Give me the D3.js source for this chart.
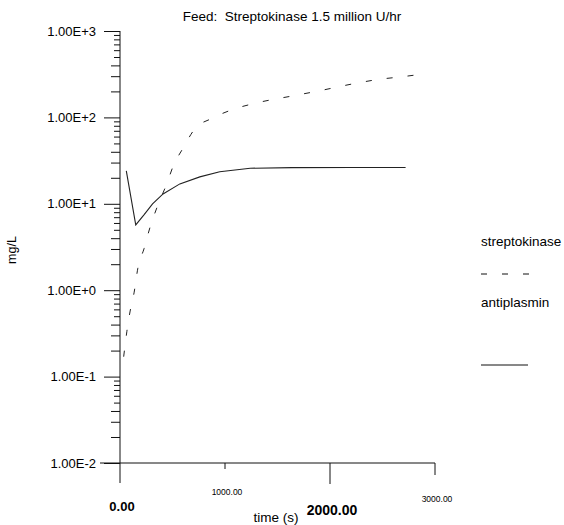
<!DOCTYPE html>
<html>
<head>
  <meta charset="utf-8">
  <script src="https://d3js.org/d3.v7.min.js"></script>
  <style>
    body { margin: 0; background: #fff; }
    text { font-family: "Liberation Sans", Arial, sans-serif; fill: #000; white-space: pre; }
    .axis path, .axis line { stroke: #111; }
  </style>
</head>
<body>
<div id="chart"></div>
<script>
  // values
  var skTime = [35, 65, 95, 135, 170, 230, 285, 360, 445, 505, 600, 710, 880, 1070, 1300, 1640, 1870, 2260, 2470, 2680, 2880];
  var skConc = [0.17, 0.33, 0.56, 0.95, 1.8, 3.05, 5.3, 9.6, 17, 27, 44, 73, 98, 123, 147, 177, 200, 250, 276, 295, 317];
  var apTime = [60, 150, 230, 310, 410, 570, 760, 950, 1240, 1640, 2200, 2720];
  var apConc = [24, 5.7, 7.5, 10, 13, 17, 20.5, 23.5, 25.8, 26.2, 26.3, 26.3];
  var yMajor = [0.01, 0.1, 1, 10, 100, 1000];
  var yMajorLabels = ["1.00E-2", "1.00E-1", "1.00E+0", "1.00E+1", "1.00E+2", "1.00E+3"];
  var xTicks = [0, 1000, 2000, 3000];
  var xTickLabels = ["0.00", "1000.00", "2000.00", "3000.00"];
  var seriesNames = ["streptokinase", "antiplasmin"];

  var width = 564, height = 525;
  var svg = d3.select('#chart').append('svg')
    .attr('width', width)
    .attr('height', height);

  var x = d3.scaleLinear().domain([0, 3000]).range([120, 435]);
  var y = d3.scaleLog().domain([0.01, 1000]).range([463, 31]);

  // minor ticks 2..9 in every decade
  var minors = [];
  yMajor.slice(0, -1).forEach(function(d) {
    for (var k = 2; k <= 9; k++) minors.push(d * k);
  });

  var yAxis = svg.append('g').attr('class', 'axis')
    .attr('transform', 'translate(' + x(0) + ',0)');
  yAxis.call(d3.axisLeft(y).tickValues(yMajor).tickSize(16).tickPadding(8)
      .tickFormat(function(d, i) { return yMajorLabels[i]; }))
    .call(function(g) { g.select('.domain').remove(); });
  yAxis.selectAll('text')
    .style('font-size', '13px')
    .style('fill', '#000');

  svg.append('g').attr('class', 'axis')
    .attr('transform', 'translate(' + x(0) + ',0)')
    .call(d3.axisLeft(y).tickValues(minors).tickFormat('')
      .tickSizeInner(7).tickSizeOuter(0))
    .call(function(g) { g.select('.domain').remove(); })
    .selectAll('line')
    .attr('x2', function(d) {
      var m = Math.round(d / Math.pow(10, Math.floor(Math.log10(d) + 1e-9)));
      return m <= 4 ? -9 : -6;
    });

  // axis lines
  svg.append('line')
    .attr('x1', x(0)).attr('x2', x(0))
    .attr('y1', y(1000)).attr('y2', y(0.01) + 20)
    .attr('stroke', '#111');
  svg.append('line')
    .attr('x1', x(0) - 20).attr('x2', x(3000))
    .attr('y1', y(0.01)).attr('y2', y(0.01))
    .attr('stroke', '#111');

  // x ticks (the scan shows mixed sizes)
  var xTickLen = [0, 6, 21, 12];
  var xLabelSize = [13, 8.5, 14, 8.5];
  var xLabelBase = [511, 495, 515, 502];
  var xt = svg.append('g').selectAll('g').data(xTicks).enter().append('g');
  xt.append('line')
    .attr('x1', function(d) { return x(d); })
    .attr('x2', function(d) { return x(d); })
    .attr('y1', y(0.01))
    .attr('y2', function(d, i) { return y(0.01) + xTickLen[i]; })
    .attr('stroke', '#111');
  xt.append('text')
    .attr('x', function(d) { return x(d) + 2; })
    .attr('y', function(d, i) { return xLabelBase[i]; })
    .attr('text-anchor', 'middle')
    .style('font-size', function(d, i) { return xLabelSize[i] + 'px'; })
    .style('font-weight', function(d, i) { return xLabelSize[i] > 10 ? 'bold' : 'normal'; })
    .text(function(d, i) { return xTickLabels[i]; });

  // titles
  svg.append('text').attr('x', 292).attr('y', 21)
    .attr('text-anchor', 'middle').style('font-size', '13.5px')
    .text('Feed:  Streptokinase 1.5 million U/hr');
  svg.append('text').attr('x', 276).attr('y', 522)
    .attr('text-anchor', 'middle').style('font-size', '13.5px')
    .text('time (s)');
  svg.append('text')
    .attr('transform', 'translate(16,250) rotate(-90)')
    .attr('text-anchor', 'middle').style('font-size', '12.5px')
    .text('mg/L');

  // lines
  var line = d3.line()
    .x(function(d) { return x(d[0]); })
    .y(function(d) { return y(d[1]); })
    .curve(d3.curveMonotoneX);

  svg.append('path')
    .datum(d3.zip(skTime, skConc))
    .attr('d', line)
    .attr('fill', 'none')
    .attr('stroke', '#222')
    .attr('stroke-width', 1)
    .attr('stroke-dasharray', '6,15');

  svg.append('path')
    .datum(d3.zip(apTime, apConc))
    .attr('d', line.curve(d3.curveLinear))
    .attr('fill', 'none')
    .attr('stroke', '#222')
    .attr('stroke-width', 1.1);

  // legend
  var lg = svg.append('g').attr('transform', 'translate(481,0)');
  lg.append('text').attr('y', 246).style('font-size', '13.5px').text(seriesNames[0]);
  lg.append('line').attr('x1', 0).attr('x2', 50).attr('y1', 274).attr('y2', 274)
    .attr('stroke', '#111').attr('stroke-dasharray', '6,15');
  lg.append('text').attr('y', 307).style('font-size', '13.5px').text(seriesNames[1]);
  lg.append('line').attr('x1', 0).attr('x2', 47).attr('y1', 365).attr('y2', 365)
    .attr('stroke', '#111');
</script>
</body>
</html>
